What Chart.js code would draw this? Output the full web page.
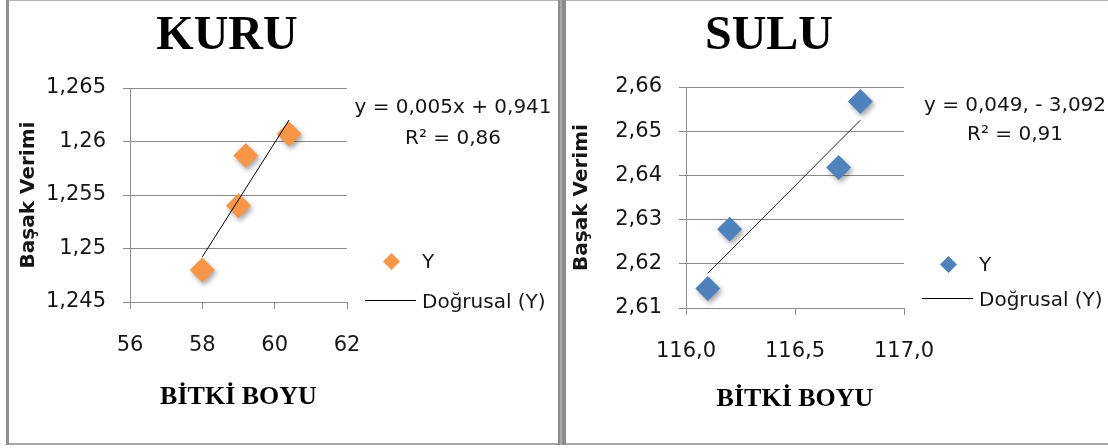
<!DOCTYPE html>
<html>
<head>
<meta charset="utf-8">
<script src="https://cdn.jsdelivr.net/npm/chart.js@4.4.0/dist/chart.umd.min.js"></script>
<style>
  html, body { margin: 0; padding: 0; background: #fff; }
  body { width: 1108px; height: 448px; position: relative; overflow: hidden; }
  canvas { position: absolute; top: 0; }
  #kuru { left: 0; }
  #sulu { left: 565px; }
  .bar { position: absolute; }
</style>
</head>
<body>
<canvas id="kuru" width="557" height="443"></canvas>
<canvas id="sulu" width="543" height="443"></canvas>
<div class="bar" style="left:6px;top:0;width:1102px;height:1px;background:#b4b4b4"></div>
<div class="bar" style="left:6px;top:443px;width:1102px;height:2px;background:#a6a6a6"></div>
<div class="bar" style="left:6px;top:0;width:3px;height:445px;background:#8f8f8f"></div>
<div class="bar" style="left:558px;top:0;width:2px;height:445px;background:#8c8c8c;border-right:2px solid #a8a8a8;box-shadow:4px 0 0 #8c8c8c"></div>
<script>
// --- KURU (kuru koşul) ---
const kuruBoy     = [58.0, 59.0, 59.2, 60.4];
const kuruVerim   = [1.2480, 1.2540, 1.2587, 1.2607];
const kuruXTicks  = [56, 58, 60, 62];
const kuruXLabels = ['56', '58', '60', '62'];
const kuruYTicks  = [1.245, 1.25, 1.255, 1.26, 1.265];
const kuruYLabels = ['1,245', '1,25', '1,255', '1,26', '1,265'];
const kuruDenklem = ['y = 0,005x + 0,941', 'R² = 0,86'];

// --- SULU (sulu koşul) ---
const suluBoy     = [116.10, 116.20, 116.70, 116.80];
const suluVerim   = [2.6144, 2.6278, 2.6418, 2.6567];
const suluXTicks  = [116, 116.5, 117];
const suluXLabels = ['116,0', '116,5', '117,0'];
const suluYTicks  = [2.61, 2.62, 2.63, 2.64, 2.65, 2.66];
const suluYLabels = ['2,61', '2,62', '2,63', '2,64', '2,65', '2,66'];
const suluDenklem = ['y = 0,049, - 3,092', 'R² = 0,91'];

const TEXT = '#161616';
const GRID = '#8c8c8c';
const SANS = '"DejaVu Sans", sans-serif';
const SERIF = '"Liberation Serif", "Times New Roman", serif';

// least squares line over the data's x range (Doğrusal trend)
function trend(xs, ys) {
  const n = xs.length;
  const mx = xs.reduce((a, b) => a + b, 0) / n;
  const my = ys.reduce((a, b) => a + b, 0) / n;
  let sxy = 0, sxx = 0;
  xs.forEach((x, i) => { sxy += (x - mx) * (ys[i] - my); sxx += (x - mx) * (x - mx); });
  const b = sxy / sxx, a = my - b * mx;
  const x0 = Math.min(...xs), x1 = Math.max(...xs);
  return [{ x: x0, y: a + b * x0 }, { x: x1, y: a + b * x1 }];
}

// title, equation, legend and marker shadow
const decor = {
  id: 'decor',
  beforeDatasetDraw(chart, args) {
    if (args.index !== 1) return;
    const ctx = chart.ctx;
    ctx.save();
    ctx.shadowColor = 'rgba(0,0,0,0.35)';
    ctx.shadowBlur = 5;
    ctx.shadowOffsetX = 2;
    ctx.shadowOffsetY = 3;
  },
  afterDatasetDraw(chart, args) {
    if (args.index === 1) chart.ctx.restore();
  },
  afterDraw(chart, args, o) {
    const ctx = chart.ctx;
    const r = chart.chartArea.right;
    ctx.save();
    ctx.fillStyle = '#000';
    ctx.font = 'bold 48px ' + SERIF;
    ctx.textAlign = 'center';
    ctx.textBaseline = 'alphabetic';
    ctx.fillText(o.title, o.titleX, 49);

    ctx.fillStyle = TEXT;
    ctx.font = '20px ' + SANS;
    ctx.fillText(o.eq[0], o.eqX, o.eqY[0]);
    ctx.fillText(o.eq[1], o.eqX, o.eqY[1]);

    // legend: marker + trend line
    ctx.textAlign = 'left';
    const dx = r + 44.5, dy = o.legY[0] - 6.5, s = 8.5;
    ctx.beginPath();
    ctx.moveTo(dx, dy - s); ctx.lineTo(dx + s, dy); ctx.lineTo(dx, dy + s); ctx.lineTo(dx - s, dy);
    ctx.closePath();
    ctx.fillStyle = o.color;
    ctx.fill();
    ctx.fillStyle = TEXT;
    ctx.fillText('Y', r + 75, o.legY[0]);
    ctx.strokeStyle = '#000';
    ctx.lineWidth = 1;
    ctx.beginPath();
    ctx.moveTo(r + 18, o.legY[1] - 7.5); ctx.lineTo(r + 69, o.legY[1] - 7.5);
    ctx.stroke();
    ctx.fillText('Doğrusal (Y)', r + 75, o.legY[1]);
    ctx.restore();
  }
};

function makeChart(id, o) {
  const canvas = document.getElementById(id);
  const W = canvas.width, H = canvas.height;
  const pts = o.xs.map((x, i) => ({ x, y: o.ys[i] }));
  return new Chart(canvas, {
    type: 'scatter',
    data: {
      datasets: [
        { label: 'Doğrusal (Y)', data: trend(o.xs, o.ys), showLine: true, borderColor: o.lineColor,
          borderWidth: 1, pointRadius: 0, order: 0 },
        { label: 'Y', data: pts, pointStyle: 'rectRot', pointRadius: 12.5, pointHoverRadius: 12.5,
          backgroundColor: o.color, borderWidth: 0, order: 1, clip: false }
      ]
    },
    options: {
      responsive: false,
      animation: false,
      events: [],
      layout: { padding: { left: 0, top: o.area.top, right: W - o.area.right, bottom: 0 } },
      plugins: {
        legend: { display: false },
        tooltip: { enabled: false },
        decor: o.decor
      },
      scales: {
        x: {
          type: 'linear',
          min: o.xTicks[0], max: o.xTicks[o.xTicks.length - 1],
          afterBuildTicks: s => { s.ticks = o.xTicks.map(v => ({ value: v })); },
          afterFit: s => { s.height = H - o.area.bottom; },
          ticks: { callback: (v, i) => o.xLabels[i], padding: 24, color: TEXT,
                   font: { family: SANS, size: 21 }, maxRotation: 0 },
          grid: { drawOnChartArea: false, tickLength: 7, color: GRID },
          border: { color: GRID },
          title: { display: true, text: 'BİTKİ BOYU', color: '#000',
                   font: { family: SERIF, size: 26, weight: 'bold' }, padding: { bottom: o.xTitlePad } }
        },
        y: {
          type: 'linear',
          min: o.yTicks[0], max: o.yTicks[o.yTicks.length - 1],
          afterBuildTicks: s => { s.ticks = o.yTicks.map(v => ({ value: v })); },
          afterFit: s => { s.width = o.area.left; },
          ticks: { callback: (v, i) => o.yLabels[i], padding: 17, color: TEXT,
                   font: { family: SANS, size: 21 } },
          grid: { tickLength: 7, color: GRID },
          border: { color: GRID },
          title: { display: true, text: 'Başak Verimi', color: TEXT,
                   font: { family: SANS, size: 20, weight: 'bold' }, padding: { top: o.yTitlePad } }
        }
      }
    },
    plugins: [decor]
  });
}

makeChart('kuru', {
  xs: kuruBoy, ys: kuruVerim,
  xTicks: kuruXTicks, xLabels: kuruXLabels, yTicks: kuruYTicks, yLabels: kuruYLabels,
  color: '#F79646', lineColor: '#000',
  area: { left: 130, right: 347, top: 88, bottom: 302 },
  xTitlePad: 30, yTitlePad: 17,
  decor: { title: 'KURU', titleX: 227, eq: kuruDenklem, eqX: 453, eqY: [113, 144],
           legY: [268, 308], color: '#F79646' }
});

makeChart('sulu', {
  xs: suluBoy, ys: suluVerim,
  xTicks: suluXTicks, xLabels: suluXLabels, yTicks: suluYTicks, yLabels: suluYLabels,
  color: '#4F81BD', lineColor: '#222',
  area: { left: 121, right: 339, top: 87, bottom: 308 },
  xTitlePad: 28, yTitlePad: 5,
  decor: { title: 'SULU', titleX: 204, eq: suluDenklem, eqX: 450, eqY: [111, 140],
           legY: [271, 306], color: '#4F81BD' }
});
</script>
</body>
</html>
